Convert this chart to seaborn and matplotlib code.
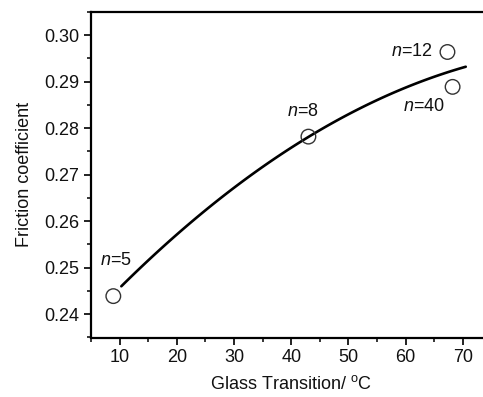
import matplotlib
matplotlib.use("Agg")
import matplotlib.pyplot as plt
from matplotlib.ticker import MultipleLocator
import seaborn as sns
import pandas as pd

# Data
tg = [8.9, 43.0, 67.3, 68.2]
friction = [0.2439, 0.2782, 0.2964, 0.2889]
labels = ["5", "8", "12", "40"]
label_x = [9.3, 42.1, 61.1, 63.2]
label_y = [0.2515, 0.2836, 0.2964, 0.2846]

# fitted curve
curve_x = [10.3, 13.7, 21.3, 29.4, 37.6, 43.0, 55.4, 70.5]
curve_y = [0.2457, 0.2497, 0.2597, 0.2668, 0.2732, 0.2782, 0.2861, 0.2934]

x_ticks = [10, 20, 30, 40, 50, 60, 70]
y_ticks = [0.24, 0.25, 0.26, 0.27, 0.28, 0.29, 0.30]

sns.set_style("ticks")
plt.rcParams["font.family"] = ["Liberation Sans", "DejaVu Sans"]
plt.rcParams["mathtext.fontset"] = "custom"
plt.rcParams["mathtext.it"] = "Liberation Sans:italic"
plt.rcParams["mathtext.rm"] = "Liberation Sans"

fig = plt.figure(figsize=(4.83, 3.97), dpi=100)
ax = fig.add_axes([91 / 483, (397 - 337.5) / 397, 400.5 / 483, 325.5 / 397])

pts = pd.DataFrame({"tg": tg, "friction": friction})
crv = pd.DataFrame({"x": curve_x, "y": curve_y})

sns.regplot(data=crv, x="x", y="y", order=2, scatter=False, ci=None,
            truncate=True, ax=ax, line_kws=dict(color="black", lw=1.9))
sns.scatterplot(data=pts, x="tg", y="friction", ax=ax, s=110,
                facecolors="none", edgecolor="#333333", linewidth=1.0,
                zorder=3)

for lx, ly, lab in zip(label_x, label_y, labels):
    ax.text(lx, ly, r"$\it{n}$=" + lab, ha="center", va="center",
            fontsize=13, color="#111111")

ax.set_xlim(5, 75)
ax.set_ylim(0.235, 0.305)
ax.set_xticks(x_ticks)
ax.set_yticks(y_ticks)
ax.set_yticklabels([f"{v:.2f}" for v in y_ticks])
ax.xaxis.set_minor_locator(MultipleLocator(5))
ax.yaxis.set_minor_locator(MultipleLocator(0.005))
ax.tick_params(which="major", direction="out", length=5, width=1.3,
               labelsize=13, colors="#111111")
ax.tick_params(which="minor", direction="out", length=3, width=1.3)

for sp in ax.spines.values():
    sp.set_linewidth(1.6)
    sp.set_color("black")

ax.set_xlabel(r"Glass Transition/ $^{\mathrm{o}}$C", fontsize=13, labelpad=6,
              color="#111111")
ax.set_ylabel("Friction coefficient", fontsize=13, labelpad=8,
              color="#111111")

fig.savefig("out.png", dpi=100)
